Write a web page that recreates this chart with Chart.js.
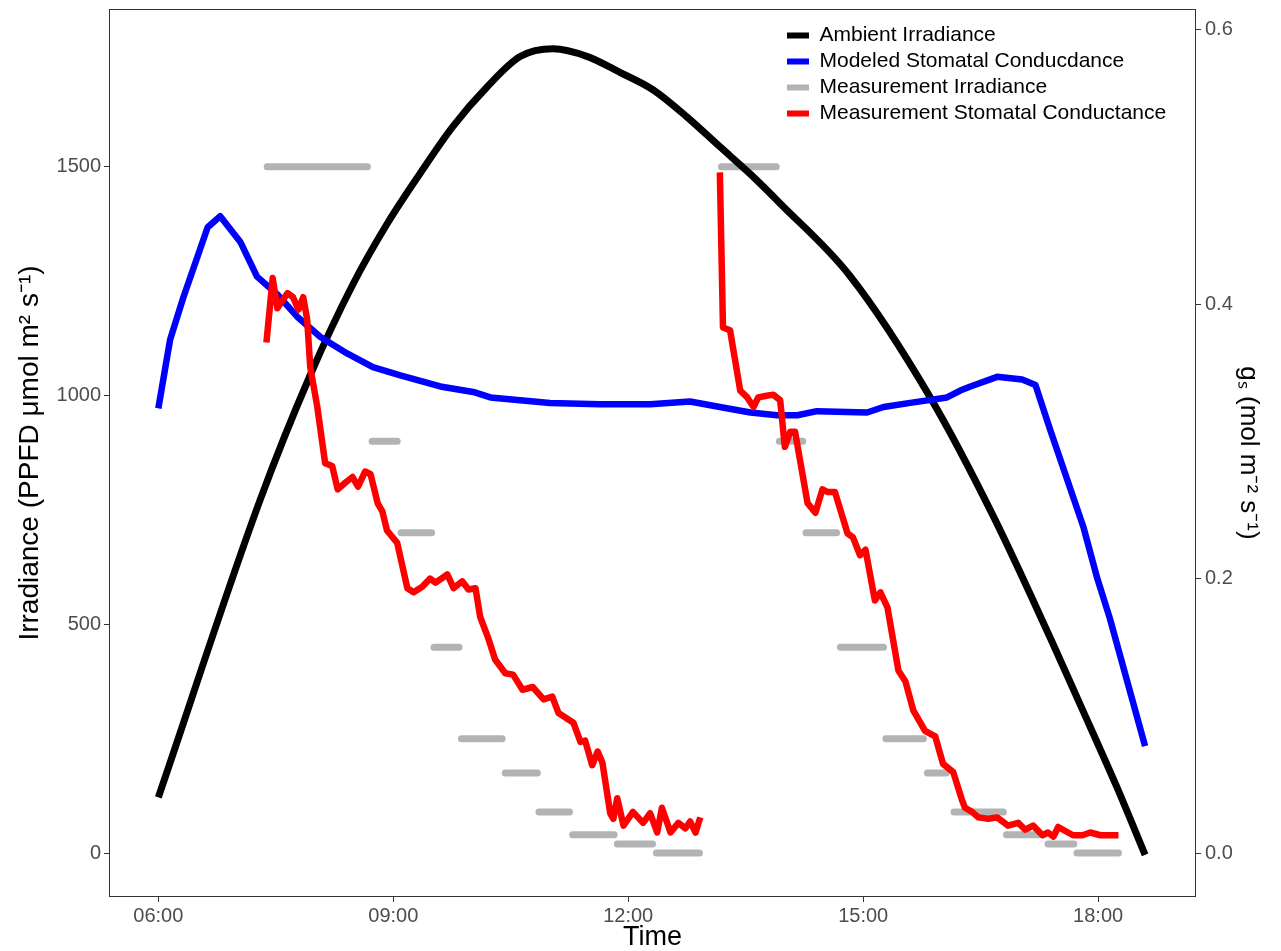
<!DOCTYPE html>
<html>
<head>
<meta charset="utf-8">
<script src="https://cdn.jsdelivr.net/npm/chart.js@4.4.1/dist/chart.umd.min.js"></script>
<style>
    html, body { margin: 0; padding: 0; background: #fff; }
    #wrap { width: 1281px; height: 951px; position: relative; }
</style>
</head>
<body>
<div id="wrap"><canvas id="myChart"></canvas></div>
<script>
// times are decimal hours of the day
const ambientTime = [6.00, 7.30, 7.94, 8.49, 8.92, 9.34, 9.76, 10.20, 10.62, 11.04, 11.48, 11.90, 12.32, 12.75, 13.17, 13.56, 13.94, 14.83, 15.86, 16.66, 17.39, 17.77, 18.24, 18.60];
const ambientPPFD = [122, 772, 1045, 1245, 1375, 1485, 1588, 1675, 1741, 1758, 1741, 1706, 1668, 1609, 1544, 1484, 1420, 1262, 995, 737, 470, 325, 144, -4];

const modelTime = [6.00, 6.15, 6.32, 6.63, 6.79, 7.05, 7.26, 7.52, 7.77, 8.07, 8.41, 8.74, 9.09, 9.60, 10.02, 10.24, 11.00, 11.64, 12.28, 12.79, 13.17, 13.56, 13.90, 14.16, 14.41, 15.05, 15.26, 15.60, 16.07, 16.24, 16.37, 16.71, 17.03, 17.20, 17.39, 17.81, 17.99, 18.15, 18.60];
const modelGs = [0.324, 0.374, 0.405, 0.456, 0.464, 0.445, 0.420, 0.407, 0.391, 0.376, 0.364, 0.354, 0.348, 0.340, 0.336, 0.332, 0.328, 0.327, 0.327, 0.329, 0.325, 0.321, 0.319, 0.319, 0.322, 0.321, 0.325, 0.328, 0.332, 0.337, 0.340, 0.347, 0.345, 0.341, 0.308, 0.238, 0.200, 0.171, 0.078];

// measured light steps (PPFD held between start and end)
const stepStart = [7.39, 8.73, 9.10, 9.52, 9.87, 10.43, 10.86, 11.29, 11.86, 12.36, 13.19, 13.93, 14.27, 14.71, 15.29, 15.82, 16.16, 16.83, 17.36, 17.73];
const stepEnd = [8.67, 9.05, 9.49, 9.84, 10.39, 10.84, 11.25, 11.82, 12.31, 12.91, 13.89, 14.23, 14.66, 15.26, 15.77, 16.06, 16.79, 17.25, 17.69, 18.26];
const stepPPFD = [1500, 900, 700, 450, 250, 175, 90, 40, 20, 0, 1500, 900, 700, 450, 250, 175, 90, 40, 20, 0];

// measured stomatal conductance, morning and afternoon runs
const gsTimeAM = [7.38, 7.46, 7.52, 7.65, 7.72, 7.79, 7.85, 7.90, 7.94, 8.03, 8.13, 8.22, 8.29, 8.39, 8.48, 8.55, 8.64, 8.71, 8.80, 8.86, 8.92, 9.05, 9.18, 9.26, 9.37, 9.47, 9.54, 9.69, 9.77, 9.88, 9.96, 10.05, 10.11, 10.21, 10.30, 10.43, 10.53, 10.65, 10.78, 10.92, 11.03, 11.11, 11.30, 11.39, 11.45, 11.54, 11.61, 11.67, 11.77, 11.81, 11.86, 11.94, 12.06, 12.19, 12.28, 12.37, 12.43, 12.54, 12.64, 12.73, 12.79, 12.86, 12.92];
const gsAM = [0.372, 0.419, 0.397, 0.408, 0.405, 0.396, 0.405, 0.389, 0.354, 0.325, 0.284, 0.282, 0.265, 0.270, 0.274, 0.267, 0.278, 0.276, 0.255, 0.249, 0.235, 0.226, 0.193, 0.190, 0.194, 0.200, 0.197, 0.203, 0.193, 0.198, 0.192, 0.193, 0.172, 0.157, 0.141, 0.131, 0.130, 0.119, 0.121, 0.112, 0.114, 0.102, 0.095, 0.081, 0.082, 0.064, 0.074, 0.066, 0.029, 0.025, 0.040, 0.020, 0.030, 0.022, 0.029, 0.015, 0.033, 0.015, 0.022, 0.018, 0.023, 0.015, 0.026];
const gsTimePM = [13.17, 13.21, 13.30, 13.43, 13.52, 13.60, 13.66, 13.75, 13.85, 13.94, 14.00, 14.07, 14.13, 14.29, 14.39, 14.48, 14.55, 14.64, 14.80, 14.87, 14.96, 15.03, 15.15, 15.22, 15.31, 15.45, 15.54, 15.64, 15.79, 15.92, 16.02, 16.15, 16.26, 16.30, 16.39, 16.47, 16.60, 16.71, 16.85, 16.98, 17.07, 17.17, 17.29, 17.36, 17.43, 17.49, 17.68, 17.80, 17.90, 18.03, 18.26];
const gsPM = [0.496, 0.383, 0.381, 0.337, 0.332, 0.325, 0.332, 0.333, 0.334, 0.330, 0.296, 0.307, 0.307, 0.255, 0.248, 0.265, 0.263, 0.263, 0.233, 0.230, 0.217, 0.221, 0.184, 0.190, 0.179, 0.133, 0.125, 0.104, 0.089, 0.085, 0.065, 0.059, 0.039, 0.033, 0.030, 0.026, 0.025, 0.026, 0.020, 0.022, 0.017, 0.020, 0.013, 0.015, 0.012, 0.019, 0.013, 0.013, 0.015, 0.013, 0.013];

const timeTicks = [6, 9, 12, 15, 18];
const timeTickLabels = ['06:00', '09:00', '12:00', '15:00', '18:00'];
const ppfdTicks = [0, 500, 1000, 1500];
const gsTicks = [0.0, 0.2, 0.4, 0.6];

// secondary axis is the primary one divided by 3000
const ppfdMin = -96, ppfdMax = 1845, gsScale = 3000;

const toXY = (xs, ys) => xs.map((x, i) => ({ x: x, y: ys[i] }));

const stepData = [];
stepPPFD.forEach((v, i) => {
    stepData.push({ x: stepStart[i], y: v }, { x: stepEnd[i], y: v }, { x: stepEnd[i], y: null });
});
const measGsData = toXY(gsTimeAM, gsAM)
    .concat([{ x: gsTimeAM[gsTimeAM.length - 1], y: null }])
    .concat(toXY(gsTimePM, gsPM));

Chart.defaults.font.family = "'Liberation Sans', Arial, sans-serif";

const tickColor = '#4d4d4d';
const lineColor = '#333333';

// fixed axis box sizes, no extra label padding around the plot panel
const fixWidth = (w) => (s) => { s.width = w; s.paddingTop = 0; s.paddingBottom = 0; };
const fixHeight = (h) => (s) => { s.height = h; s.paddingLeft = 0; s.paddingRight = 0; };

const legendTopRight = {
    id: 'legendTopRight',
    afterLayout(chart) {
        const lg = chart.legend;
        const area = chart.chartArea;
        lg.left = area.right - 414;
        lg.right = lg.left + lg.width;
        lg.top = area.top + 11;
        lg.bottom = area.bottom;
    }
};

const panelBorder = {
    id: 'panelBorder',
    afterDatasetsDraw(chart) {
        const { ctx, chartArea: a } = chart;
        ctx.save();
        ctx.strokeStyle = lineColor;
        ctx.lineWidth = 1;
        ctx.strokeRect(a.left + 0.5, a.top + 0.5, a.width - 1, a.height - 1);
        ctx.restore();
    }
};

const ctx = document.getElementById('myChart');

new Chart(ctx, {
    type: 'line',
    data: {
        datasets: [{
            label: 'Ambient Irradiance',
            data: toXY(ambientTime, ambientPPFD),
            borderColor: '#000000',
            borderWidth: 7,
            cubicInterpolationMode: 'monotone',
            yAxisID: 'y',
            order: 3
        }, {
            label: 'Modeled Stomatal Conducdance',
            data: toXY(modelTime, modelGs),
            borderColor: '#0000ff',
            borderWidth: 6.5,
            yAxisID: 'y2',
            order: 2
        }, {
            label: 'Measurement Irradiance',
            data: stepData,
            borderColor: '#b3b3b3',
            borderWidth: 7,
            borderCapStyle: 'round',
            yAxisID: 'y',
            order: 4
        }, {
            label: 'Measurement Stomatal Conductance',
            data: measGsData,
            borderColor: '#ff0000',
            borderWidth: 6.5,
            yAxisID: 'y2',
            order: 1
        }]
    },
    options: {
        responsive: true,
        maintainAspectRatio: false,
        animation: false,
        events: [],
        spanGaps: false,
        layout: { padding: { top: 9 } },
        elements: {
            point: { radius: 0 },
            line: { tension: 0, borderJoinStyle: 'round', fill: false }
        },
        scales: {
            x: {
                type: 'linear',
                min: 5.37,
                max: 19.25,
                afterBuildTicks: (s) => { s.ticks = timeTicks.map(v => ({ value: v })); },
                afterFit: fixHeight(54),
                ticks: {
                    callback: (v, i) => timeTickLabels[i],
                    color: tickColor,
                    font: { size: 20 },
                    padding: 2,
                    autoSkip: false,
                    maxRotation: 0
                },
                grid: { drawOnChartArea: false, tickLength: 5, color: lineColor },
                border: { display: false },
                title: {
                    display: true,
                    text: 'Time',
                    color: '#000',
                    font: { size: 27, lineHeight: 1 },
                    padding: 0
                }
            },
            y: {
                position: 'left',
                min: ppfdMin,
                max: ppfdMax,
                afterBuildTicks: (s) => { s.ticks = ppfdTicks.map(v => ({ value: v })); },
                afterFit: fixWidth(109),
                ticks: {
                    callback: (v) => String(v),
                    color: tickColor,
                    font: { size: 20 },
                    padding: 3
                },
                grid: { drawOnChartArea: false, tickLength: 5, color: lineColor },
                border: { display: false },
                title: {
                    display: true,
                    text: 'Irradiance (PPFD μmol m² s⁻¹)',
                    color: '#000',
                    font: { size: 28, lineHeight: 1 },
                    padding: { top: 16, bottom: 0 }
                }
            },
            y2: {
                position: 'right',
                min: ppfdMin / gsScale,
                max: ppfdMax / gsScale,
                afterBuildTicks: (s) => { s.ticks = gsTicks.map(v => ({ value: v })); },
                afterFit: fixWidth(85),
                ticks: {
                    callback: (v) => v.toFixed(1),
                    color: tickColor,
                    font: { size: 20 },
                    padding: 4
                },
                grid: { drawOnChartArea: false, tickLength: 5, color: lineColor },
                border: { display: false },
                title: {
                    display: true,
                    text: 'gₛ (mol m⁻² s⁻¹)',
                    color: '#000',
                    font: { size: 26, lineHeight: 1 },
                    padding: { top: 20, bottom: 0 }
                }
            }
        },
        plugins: {
            legend: {
                position: 'chartArea',
                align: 'start',
                labels: {
                    boxWidth: 22,
                    boxHeight: 6,
                    padding: 5,
                    color: '#000',
                    font: { size: 21 },
                    generateLabels: (chart) => chart.data.datasets.map((ds, i) => ({
                        text: ds.label,
                        fillStyle: ds.borderColor,
                        strokeStyle: ds.borderColor,
                        lineWidth: 0,
                        hidden: false,
                        datasetIndex: i,
                        fontColor: '#000'
                    }))
                }
            },
            tooltip: { enabled: false }
        }
    },
    plugins: [legendTopRight, panelBorder]
});
</script>
</body>
</html>
